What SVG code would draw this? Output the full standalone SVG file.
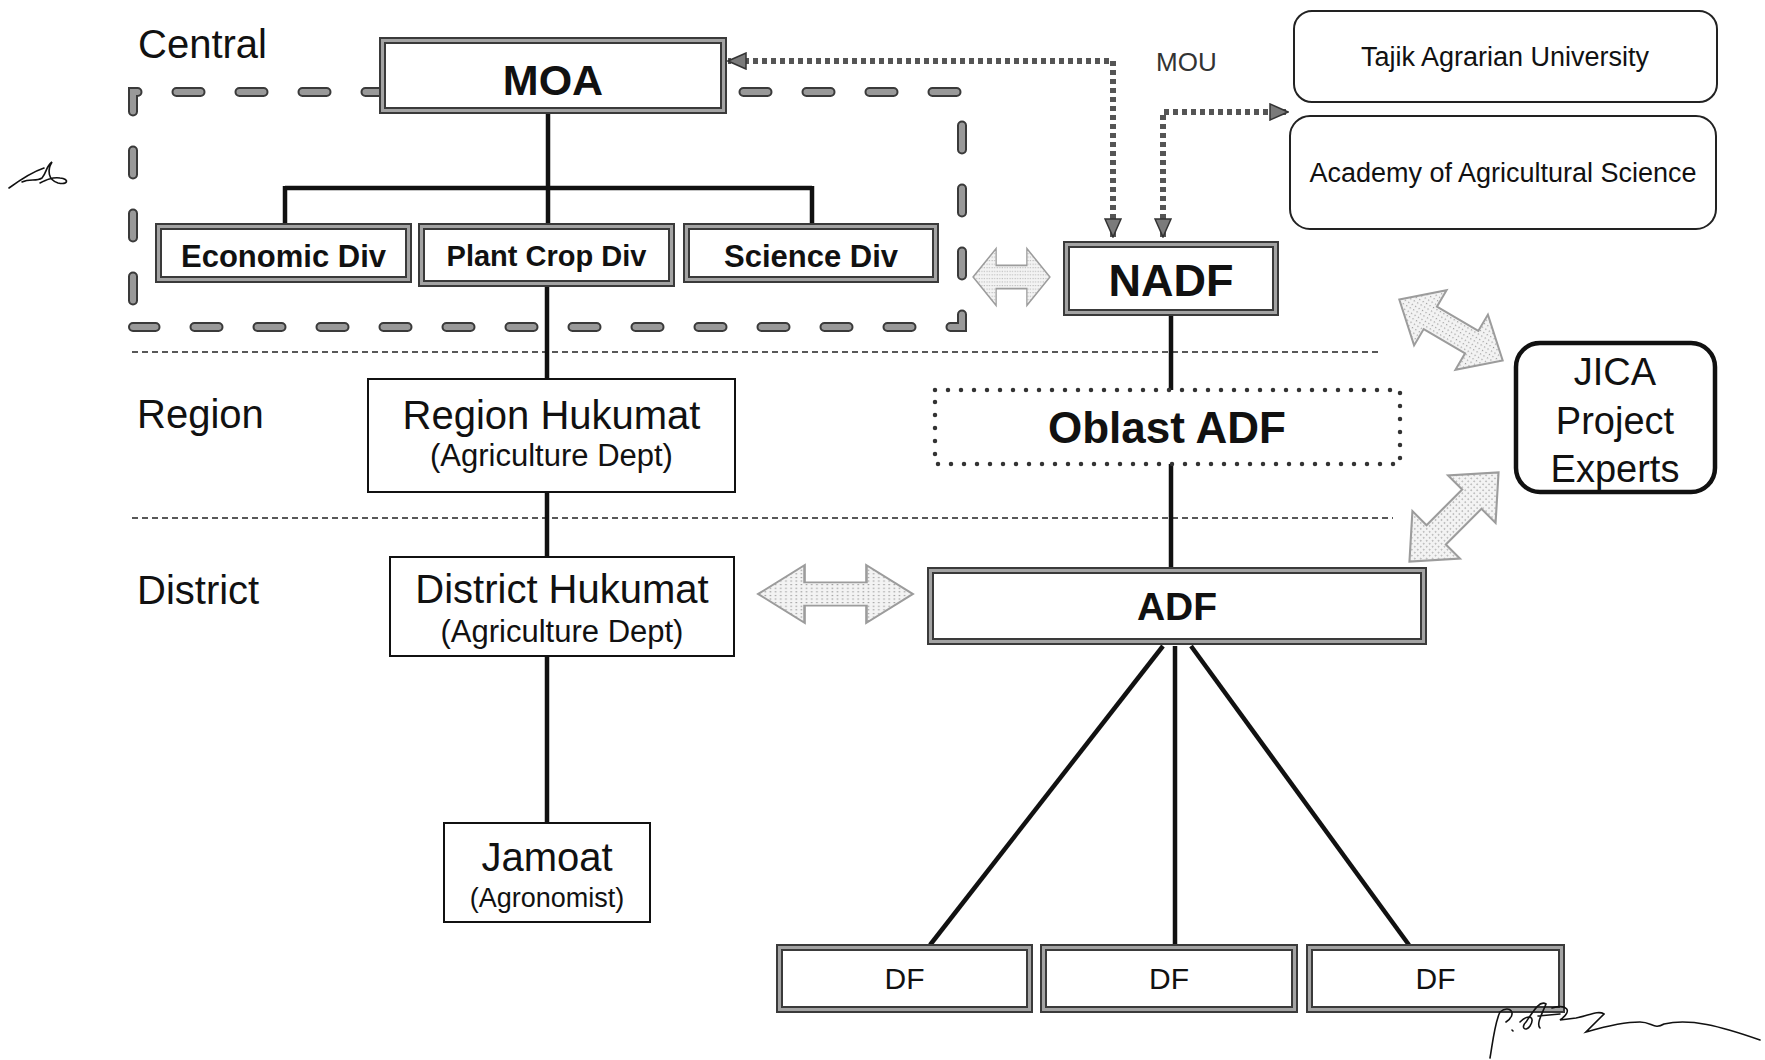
<svg xmlns="http://www.w3.org/2000/svg" width="1765" height="1060" viewBox="0 0 1765 1060">
<defs>
<pattern id="stip" width="4" height="4" patternUnits="userSpaceOnUse"><rect width="4" height="4" fill="#f3f3f3"/><rect x="1" y="1" width="1.2" height="1.2" fill="#9a9a9a"/></pattern>
<marker id="tri" viewBox="0 0 20 18" refX="19" refY="9" markerWidth="20" markerHeight="18" markerUnits="userSpaceOnUse" orient="auto-start-reverse"><path d="M1 1 L19 9 L1 17 Z" fill="#7a7a7a" stroke="#333" stroke-width="1.5"/></marker>
<polygon id="dbl" points="-60,0 -24,-32 -24,-13 24,-13 24,-32 60,0 24,32 24,13 -24,13 -24,32"/>
</defs>
<style>
text{font-family:"Liberation Sans",Arial,Helvetica,sans-serif;fill:#111}
.b{font-weight:bold}
.mid{text-anchor:middle}
.tko{fill:#fff;stroke:#3a3a3a;stroke-width:7}
.tki{fill:none;stroke:#a3a3a3;stroke-width:3}
.thin{fill:#fff;stroke:#111;stroke-width:2}
.rnd{fill:#fff;stroke:#222;stroke-width:2}
.conn{stroke:#111;stroke-width:4.5;fill:none}
.sep{stroke:#222;stroke-width:1.6;stroke-dasharray:6 4;fill:none}
.mou{stroke:#555;stroke-width:6;stroke-dasharray:5 4;fill:none}
.garrow{fill:url(#stip);stroke:#9c9c9c;stroke-width:2}
.bnd1{fill:none;stroke:#3a3a3a;stroke-width:10;stroke-linecap:round;stroke-dasharray:24 39;stroke-dashoffset:36.5}
.bnd2{fill:none;stroke:#999;stroke-width:6;stroke-linecap:round;stroke-dasharray:24 39;stroke-dashoffset:36.5}
.sig{fill:none;stroke:#111;stroke-width:1.6;stroke-linecap:round}
</style>
<rect width="1765" height="1060" fill="#fff"/>

<g id="level-labels">
<text x="138" y="58" font-size="40">Central</text>
<text x="137" y="428" font-size="40">Region</text>
<text x="137" y="604" font-size="40">District</text>
</g>

<g id="separators">
<line class="sep" x1="132" y1="352" x2="1382" y2="352"/>
<line class="sep" x1="132" y1="518" x2="1393" y2="518"/>
</g>

<g id="moa-boundary">
<path class="bnd1" d="M133 327 L133 92 L962 92 L962 327 Z"/>
<path class="bnd2" d="M133 327 L133 92 L962 92 L962 327 Z"/>
</g>

<g id="connectors">
<path class="conn" d="M548 114 V223 M285 188 H812 M285 186 V223 M812 186 V223"/>
<line class="conn" x1="547" y1="287" x2="547" y2="822"/>
<line class="conn" x1="1171" y1="316" x2="1171" y2="567"/>
<line class="conn" x1="1163" y1="646" x2="930" y2="945"/>
<line class="conn" x1="1175" y1="646" x2="1175" y2="945"/>
<line class="conn" x1="1191" y1="646" x2="1409" y2="945"/>
<path class="mou" d="M1113 237 V61 H728" marker-start="url(#tri)" marker-end="url(#tri)"/>
<path class="mou" d="M1163 237 V112 H1288" marker-start="url(#tri)" marker-end="url(#tri)"/>
<use href="#dbl" class="garrow" transform="translate(1011.5 277) scale(0.64 0.89)"/>
<use href="#dbl" class="garrow" transform="translate(835.5 594) scale(1.29 0.9)"/>
<use href="#dbl" class="garrow" transform="translate(1451 330) rotate(30.5)"/>
<use href="#dbl" class="garrow" transform="translate(1454 517) rotate(-45) scale(1.05 1.05)"/>
</g>

<g id="MOA">
<rect class="tko" x="382.5" y="40.5" width="341" height="70"/>
<rect class="tki" x="382.5" y="40.5" width="341" height="70"/>
<text class="b mid" x="553" y="95" font-size="43">MOA</text>
</g>
<g id="EconomicDiv">
<rect class="tko" x="158.5" y="226.5" width="250" height="53"/>
<rect class="tki" x="158.5" y="226.5" width="250" height="53"/>
<text class="b mid" x="283.5" y="267" font-size="31">Economic Div</text>
</g>
<g id="PlantCropDiv">
<rect class="tko" x="421.5" y="226.5" width="250" height="57"/>
<rect class="tki" x="421.5" y="226.5" width="250" height="57"/>
<text class="b mid" x="546.5" y="266" font-size="29">Plant Crop Div</text>
</g>
<g id="ScienceDiv">
<rect class="tko" x="686.5" y="226.5" width="249" height="53"/>
<rect class="tki" x="686.5" y="226.5" width="249" height="53"/>
<text class="b mid" x="811" y="267" font-size="31">Science Div</text>
</g>
<g id="NADF">
<rect class="tko" x="1066.5" y="244.5" width="209" height="68"/>
<rect class="tki" x="1066.5" y="244.5" width="209" height="68"/>
<text class="b mid" x="1171" y="296" font-size="45">NADF</text>
</g>
<g id="OblastADF">
<rect x="935" y="390" width="465" height="74" fill="#fff" stroke="#333" stroke-width="4.5" stroke-linecap="round" stroke-dasharray="0 13"/>
<text class="b mid" x="1167" y="443" font-size="44">Oblast ADF</text>
</g>
<g id="ADF">
<rect class="tko" x="930.5" y="570.5" width="493" height="71"/>
<rect class="tki" x="930.5" y="570.5" width="493" height="71"/>
<text class="b mid" x="1177" y="620" font-size="39">ADF</text>
</g>
<g id="DF1">
<rect class="tko" x="779.5" y="947.5" width="250" height="62"/>
<rect class="tki" x="779.5" y="947.5" width="250" height="62"/>
<text class="mid" x="904.5" y="989" font-size="30">DF</text>
</g>
<g id="DF2">
<rect class="tko" x="1043.5" y="947.5" width="251" height="62"/>
<rect class="tki" x="1043.5" y="947.5" width="251" height="62"/>
<text class="mid" x="1169" y="989" font-size="30">DF</text>
</g>
<g id="DF3">
<rect class="tko" x="1309.5" y="947.5" width="252" height="62"/>
<rect class="tki" x="1309.5" y="947.5" width="252" height="62"/>
<text class="mid" x="1435.5" y="989" font-size="30">DF</text>
</g>
<g id="RegionHukumat">
<rect class="thin" x="368" y="379" width="367" height="113"/>
<text class="mid" x="551.5" y="429" font-size="40">Region Hukumat</text>
<text class="mid" x="551.5" y="466" font-size="31">(Agriculture Dept)</text>
</g>
<g id="DistrictHukumat">
<rect class="thin" x="390" y="557" width="344" height="99"/>
<text class="mid" x="562" y="603" font-size="40">District Hukumat</text>
<text class="mid" x="562" y="642" font-size="31">(Agriculture Dept)</text>
</g>
<g id="Jamoat">
<rect class="thin" x="444" y="823" width="206" height="99"/>
<text class="mid" x="547" y="871" font-size="40">Jamoat</text>
<text class="mid" x="547" y="907" font-size="27">(Agronomist)</text>
</g>
<g id="TajikAgrarianUniversity">
<rect class="rnd" x="1294" y="11" width="423" height="91" rx="18"/>
<text class="mid" x="1505" y="66" font-size="27">Tajik Agrarian University</text>
</g>
<g id="AcademyAgriculturalScience">
<rect class="rnd" x="1290" y="116" width="426" height="113" rx="20"/>
<text class="mid" x="1503" y="182" font-size="27">Academy of Agricultural Science</text>
</g>
<g id="JICA">
<rect x="1516" y="343" width="199" height="149" rx="24" fill="#fff" stroke="#111" stroke-width="4.5"/>
<text class="mid" x="1615" y="385" font-size="38">JICA</text>
<text class="mid" x="1615" y="434" font-size="38">Project</text>
<text class="mid" x="1615" y="482" font-size="38">Experts</text>
</g>
<g id="MOU-label">
<text x="1156" y="71" font-size="26" style="fill:#333">MOU</text>
</g>

<g id="signatures">
<path class="sig" d="M9 188 C20 180 32 172 44 168 M22 182 C30 178 36 182 42 178 C47 172 46 166 52 162 C47 170 48 180 58 183 C68 185 70 179 60 178 C52 177 46 180 40 183"/>
<path class="sig" d="M1490 1058 C1493 1040 1495 1022 1500 1012 C1510 1004 1518 1014 1506 1022 M1512 1030 L1513 1031 M1520 1022 C1528 1014 1536 1016 1530 1026 C1526 1032 1520 1028 1526 1022 C1534 1010 1540 1000 1546 1004 C1542 1014 1536 1024 1540 1028 M1538 1016 L1560 1014 M1552 1008 C1566 1004 1574 1010 1560 1020 L1576 1018 C1588 1016 1598 1010 1604 1014 L1586 1032 C1600 1028 1620 1022 1640 1022 C1652 1022 1654 1030 1664 1024 C1690 1018 1720 1026 1760 1040"/>
</g>
</svg>
